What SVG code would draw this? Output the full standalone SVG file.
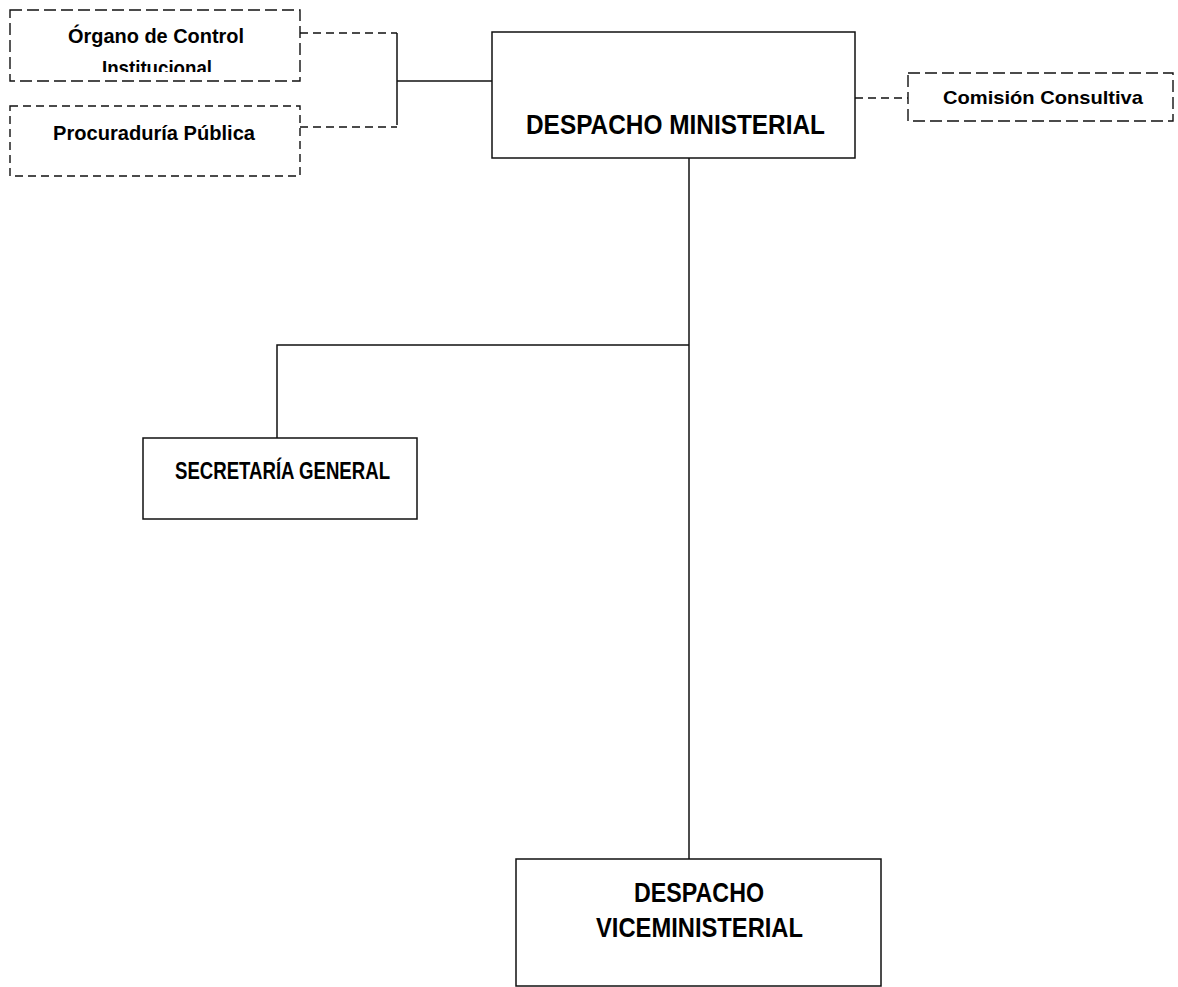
<svg xmlns="http://www.w3.org/2000/svg" width="1178" height="987" viewBox="0 0 1178 987">
<style>
.box{fill:#fff;stroke:#111;stroke-width:1.5}
.dbox{fill:#fff;stroke:#111;stroke-width:1.4;stroke-dasharray:12 5}
.dbox2{fill:#fff;stroke:#111;stroke-width:1.4;stroke-dasharray:8 5}
.ln{fill:none;stroke:#111;stroke-width:1.5}
.dln{fill:none;stroke:#111;stroke-width:1.4;stroke-dasharray:8 5}
text{font-family:"Liberation Sans",Arial,sans-serif;font-weight:bold;fill:#000}
</style>
<defs>
<clipPath id="clipOrg"><rect x="10" y="10" width="290" height="62"/></clipPath>
</defs>
<rect width="1178" height="987" fill="#fff"/>
<g id="connectors">
<path class="dln" d="M300,33 H397"/>
<path class="ln" d="M397,33 V125"/>
<path class="dln" d="M300,127 H397"/>
<path class="ln" d="M397,81 H492"/>
<path class="dln" d="M855,98 H908"/>
<path class="ln" d="M689,158 V859"/>
<path class="ln" d="M277,438 V345 H689"/>
</g>
<g id="organo-control">
<rect class="dbox" x="10" y="10" width="290" height="71"/>
<g clip-path="url(#clipOrg)">
<text x="68" y="43" font-size="21" textLength="176" lengthAdjust="spacingAndGlyphs">Órgano de Control</text>
<text x="102" y="75" font-size="21" textLength="110" lengthAdjust="spacingAndGlyphs">Institucional</text>
</g>
</g>
<g id="procuraduria">
<rect class="dbox2" x="10" y="106" width="290" height="70"/>
<text x="53" y="140" font-size="21" textLength="202" lengthAdjust="spacingAndGlyphs">Procuraduría Pública</text>
</g>
<g id="despacho-ministerial">
<rect class="box" x="492" y="32" width="363" height="126"/>
<text x="526" y="134" font-size="27" textLength="299" lengthAdjust="spacingAndGlyphs">DESPACHO MINISTERIAL</text>
</g>
<g id="comision-consultiva">
<rect class="dbox" x="908" y="73" width="265" height="48"/>
<text x="943" y="104" font-size="19" textLength="200" lengthAdjust="spacingAndGlyphs">Comisión Consultiva</text>
</g>
<g id="secretaria-general">
<rect class="box" x="143" y="438" width="274" height="81"/>
<text x="175" y="479" font-size="23" textLength="215" lengthAdjust="spacingAndGlyphs">SECRETARÍA GENERAL</text>
</g>
<g id="despacho-viceministerial">
<rect class="box" x="516" y="859" width="365" height="127"/>
<text x="634" y="902" font-size="27" textLength="130" lengthAdjust="spacingAndGlyphs">DESPACHO</text>
<text x="596" y="937" font-size="27" textLength="207" lengthAdjust="spacingAndGlyphs">VICEMINISTERIAL</text>
</g>
</svg>
